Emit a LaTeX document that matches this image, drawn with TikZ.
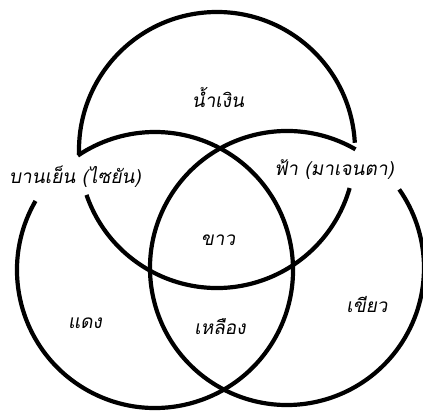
\documentclass[tikz,border=0pt]{standalone}
\usepackage{fontspec}
\newfontfamily\thaifont[Script=Thai,FakeSlant=0.18]{Loma}
\usepackage{tikz}
\usetikzlibrary{positioning}

\begin{document}
\begin{tikzpicture}[x=1pt,y=1pt,
  ring/.style={line width=4.2pt},
  lbl/.style={font=\thaifont\fontsize{19}{22}\selectfont,inner sep=1pt}]
\useasboundingbox (0,0) rectangle (423,411);
% centres of the three circles
\coordinate (ctop) at (217,261);
\coordinate (cleft) at (155,141);
\coordinate (cright) at (287,143);
% top circle, broken at both label gaps
\draw[ring] (ctop) ++(3:138) arc[start angle=3,end angle=182,radius=138];
\draw[ring] (ctop) ++(199:138) arc[start angle=199,end angle=344,radius=138];
% left and right circles
\draw[ring] (cleft) ++(150:138) arc[start angle=150,end angle=484,radius=138];
\draw[ring] (cright) ++(60:137) arc[start angle=60,end angle=395,radius=137];
% labels
\node[lbl] (blue) at (218,314) {น้ำเงิน};
\node[lbl] (magenta) at (75,234) {บานเย็น (ไซยัน)};
\node[lbl] (cyan) at (334,241) {ฟ้า (มาเจนตา)};
\node[lbl] (white) at (218,171) {ขาว};
\node[lbl] (red) at (85,88) {แดง};
\node[lbl] (yellow) at (220,84) {เหลือง};
\node[lbl] (green) at (367,106) {เขียว};
\end{tikzpicture}
\end{document}
